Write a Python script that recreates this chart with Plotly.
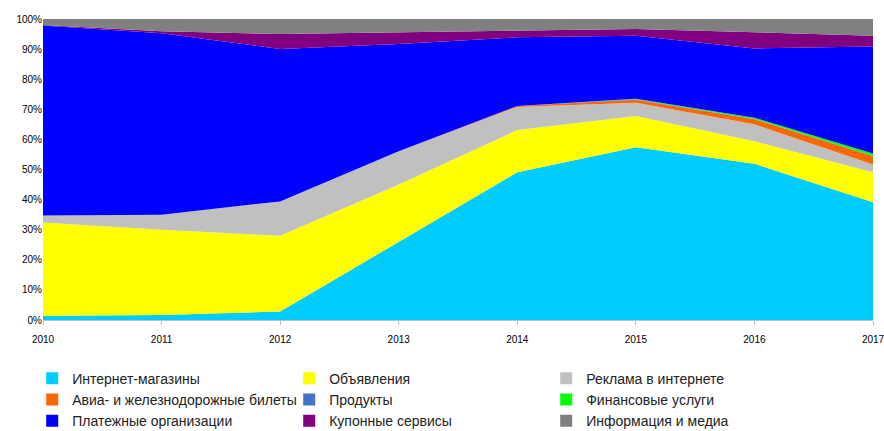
import plotly.graph_objects as go

years = [2010, 2011, 2012, 2013, 2014, 2015, 2016, 2017]

internet_shops = [1.4, 1.7, 2.8, 26.0, 49.1, 57.4, 51.9, 39.1]
ads            = [31.0, 28.3, 25.2, 19.0, 14.0, 10.4, 7.5, 10.0]
web_advert     = [2.3, 5.0, 11.4, 11.1, 7.7, 4.4, 5.6, 2.6]
tickets        = [0.0, 0.0, 0.0, 0.0, 0.3, 1.0, 1.7, 2.7]
products       = [0.0, 0.0, 0.0, 0.0, 0.0, 0.1, 0.1, 0.1]
finance        = [0.0, 0.0, 0.0, 0.0, 0.0, 0.2, 0.4, 0.8]
payments       = [63.1, 60.3, 50.6, 35.6, 22.8, 20.9, 23.0, 35.6]
coupons        = [0.2, 0.6, 5.0, 3.9, 2.4, 2.3, 5.4, 3.5]
media          = [2.0, 4.1, 5.0, 4.4, 3.7, 3.3, 4.4, 5.6]

y_ticks = [0, 10, 20, 30, 40, 50, 60, 70, 80, 90, 100]
y_ticktext = [f"{v}%" for v in y_ticks]

names = ["Интернет-магазины", "Объявления", "Реклама в интернете",
         "Авиа- и железнодорожные билеты", "Продукты", "Финансовые услуги",
         "Платежные организации", "Купонные сервисы", "Информация и медиа"]
series = [internet_shops, ads, web_advert, tickets, products, finance,
          payments, coupons, media]
colors = ["#00CCFF", "#FFFF00", "#C0C0C0", "#FF6600", "#4472C4", "#00FF00",
          "#0000FF", "#800080", "#808080"]

fig = go.Figure()
for name, vals, col in zip(names, series, colors):
    fig.add_trace(go.Scatter(
        x=years, y=vals, name=name, mode="lines", stackgroup="one",
        groupnorm="percent", line=dict(width=0, color=col),
        fillcolor=col, showlegend=False, hoverinfo="x+y+name"))

for name, col in zip(names, colors):
    fig.add_trace(go.Scatter(
        x=[None], y=[None], name=name, mode="markers",
        marker=dict(symbol="square", size=9, color=col),
        showlegend=True))

fig.update_layout(
    width=884, height=431,
    margin=dict(l=43, r=11, t=19, b=111, autoexpand=False),
    paper_bgcolor="white", plot_bgcolor="white",
    font=dict(family="Liberation Sans Narrow, Arial Narrow, sans-serif",
              size=14, color="#222222"),
    xaxis=dict(range=[2010, 2017], tickmode="array", tickvals=years,
               ticktext=[str(y) for y in years], showgrid=False, zeroline=False,
               showline=True, linecolor="#BFBFBF", linewidth=1,
               ticks="outside", ticklen=4, tickcolor="#BFBFBF",
               tickfont=dict(family="Arial, Liberation Sans, sans-serif", size=10, color="#000000"),
               ticklabelstandoff=6, ticklabeloverflow="allow", automargin=False),
    yaxis=dict(range=[0, 100], tickmode="array", tickvals=y_ticks, ticktext=y_ticktext,
               showgrid=False, zeroline=False, showline=False, automargin=False,
               tickfont=dict(family="Arial, Liberation Sans, sans-serif", size=10, color="#000000")),
    legend=dict(orientation="h", x=-0.013, xanchor="left", y=-0.142, yanchor="top",
                entrywidth=212, entrywidthmode="pixels", traceorder="normal",
                font=dict(size=14, color="#222222"), itemsizing="constant"),
)

fig.write_html("out.html")
